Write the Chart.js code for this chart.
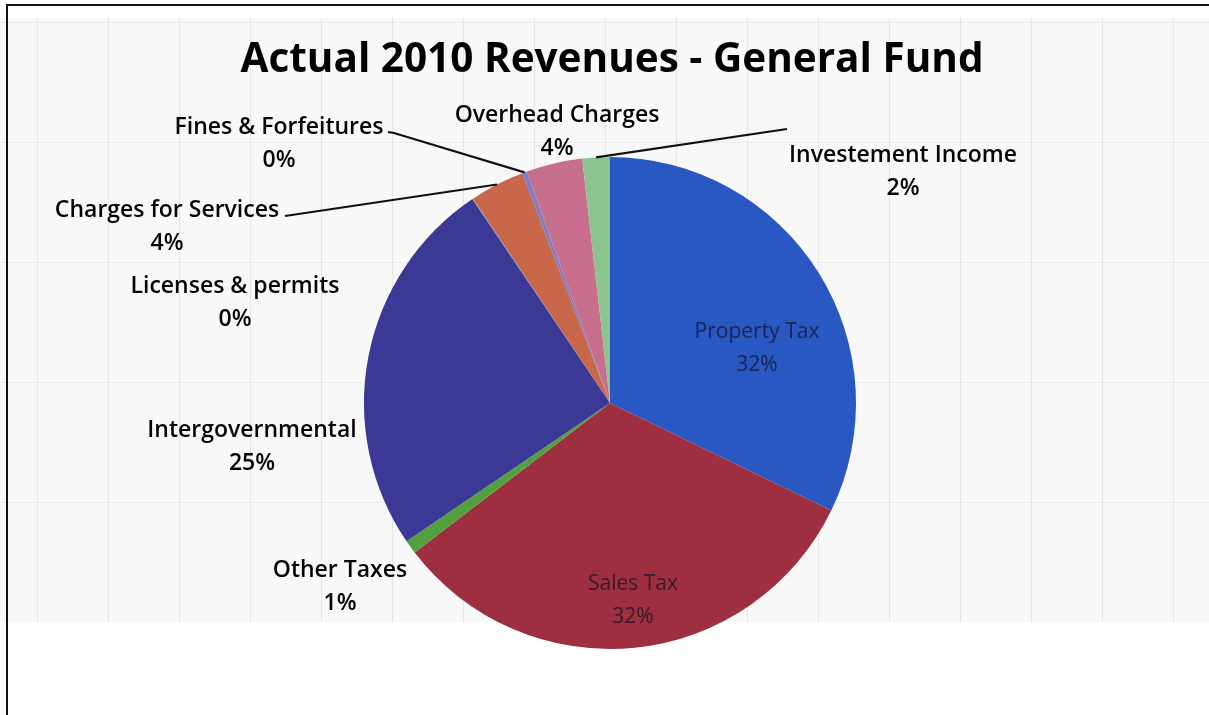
<!DOCTYPE html>
<html>
<head>
<meta charset="utf-8">
<script src="https://cdn.jsdelivr.net/npm/chart.js@4/dist/chart.umd.min.js"></script>
<style>
  html, body { margin: 0; padding: 0; background: #fff; }
  #wrap { position: relative; width: 1209px; height: 715px; overflow: hidden; }
  #sheet {
    position: absolute; left: 0; top: 18px; width: 1209px; height: 604px;
    background-color: #f8f8f8;
    background-image:
      repeating-linear-gradient(90deg, rgba(0,0,0,0) 0 37px, rgba(150,150,150,0.18) 37px 38px, rgba(0,0,0,0) 38px 71px),
      repeating-linear-gradient(0deg, rgba(0,0,0,0) 0 119px, rgba(150,150,150,0.14) 119px 120px);
  }
  #frame {
    position: absolute; left: 6px; top: 4px; width: 1220px; height: 720px;
    border-left: 2px solid #111; border-top: 2px solid #111;
  }
  canvas { position: absolute; left: 0; top: 0; }
</style>
</head>
<body>
<div id="wrap">
  <div id="sheet"></div>
  <div id="frame"></div>
  <canvas id="revenues" width="1209" height="715"></canvas>
</div>
<script>
var chartTitle = 'Actual 2010 Revenues - General Fund'
var categories = ['Property Tax', 'Sales Tax', 'Other Taxes', 'Intergovernmental',
  'Licenses & permits', 'Charges for Services', 'Fines & Forfeitures',
  'Overhead Charges', 'Investement Income']
var shares = [32.2, 32.4, 0.9, 25.05, 0.05, 3.6, 0.3, 3.7, 1.8]
var sliceColors = ['#2a58c2', '#9e2f40', '#52a03e', '#3b3896', '#4bacc6',
  '#c9674a', '#7c7cc8', '#c86f8d', '#8cc48f']

// where each label sits; leader lines start at `line` (stub = short flat piece first)
var labelSpots = {
  'Property Tax':         { x: 757, y: 332, inside: true },
  'Sales Tax':            { x: 633, y: 584, inside: true },
  'Other Taxes':          { x: 340, y: 570 },
  'Intergovernmental':    { x: 252, y: 430 },
  'Licenses & permits':   { x: 235, y: 286 },
  'Charges for Services': { x: 167, y: 210, line: [285, 216] },
  'Fines & Forfeitures':  { x: 279, y: 127, line: [388, 132], stub: 6 },
  'Overhead Charges':     { x: 557, y: 115 },
  'Investement Income':   { x: 903, y: 155, line: [787, 129] }
}

// title drawn by hand: the built-in one gets squeezed into the padded chart width
var pieTitle = {
  id: 'pieTitle',
  afterDraw(chart) {
    let ctx = chart.ctx
    ctx.save()
    ctx.fillStyle = '#000'
    ctx.font = 'bold 40.5px "Open Sans"'
    ctx.textAlign = 'center'
    ctx.textBaseline = 'middle'
    ctx.fillText(chartTitle, 612, 60)
    ctx.restore()
  }
}

var pieLabels = {
  id: 'pieLabels',
  afterDatasetsDraw(chart) {
    let ctx = chart.ctx
    let meta = chart.getDatasetMeta(0)
    let total = shares.reduce((a, b) => a + b, 0)
    ctx.save()
    meta.data.forEach((arc, i) => {
      let spot = labelSpots[categories[i]]
      if (!spot) return
      let pct = Math.round(shares[i] / total * 100) + '%'
      if (spot.line) {
        let p = arc.getProps(['x', 'y', 'startAngle', 'endAngle', 'outerRadius'], true)
        let mid = (p.startAngle + p.endAngle) / 2
        let ex = p.x + Math.cos(mid) * p.outerRadius
        let ey = p.y + Math.sin(mid) * p.outerRadius
        ctx.strokeStyle = '#111'
        ctx.lineWidth = 2.2
        ctx.beginPath()
        ctx.moveTo(spot.line[0], spot.line[1])
        if (spot.stub) ctx.lineTo(spot.line[0] + spot.stub, spot.line[1] + 1)
        ctx.lineTo(ex, ey)
        ctx.stroke()
      }
      ctx.textAlign = 'center'
      ctx.textBaseline = 'middle'
      if (spot.inside) {
        ctx.fillStyle = 'rgba(20,20,40,0.75)'
        ctx.font = '21px "Open Sans"'
      } else {
        ctx.fillStyle = '#050505'
        ctx.font = '600 23px "Open Sans"'
      }
      ctx.fillText(categories[i], spot.x, spot.y)
      ctx.fillText(pct, spot.x, spot.y + 33)
    })
    ctx.restore()
  }
}

var chart = new Chart(document.getElementById('revenues'), {
  type: 'pie',
  data: {
    labels: categories,
    datasets: [{
      data: shares,
      backgroundColor: sliceColors,
      borderWidth: 0
    }]
  },
  options: {
    responsive: false,
    animation: false,
    layout: { padding: { left: 364, right: 353, top: 157, bottom: 66 } },
    plugins: {
      legend: { display: false },
      tooltip: { enabled: false },
      title: { display: false }
    }
  },
  plugins: [pieLabels, pieTitle]
})
</script>
</body>
</html>
